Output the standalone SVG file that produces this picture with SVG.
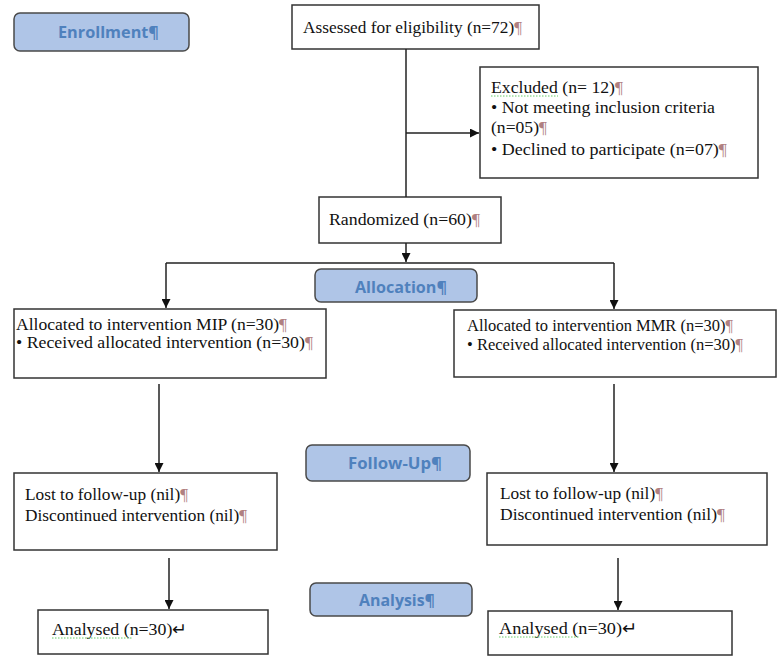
<svg xmlns="http://www.w3.org/2000/svg" width="780" height="657" viewBox="0 0 780 657">
<defs>
<marker id="arr" viewBox="0 0 10 10" refX="10" refY="5" markerWidth="9" markerHeight="9" markerUnits="userSpaceOnUse" orient="auto">
<path d="M0,0 L10,5 L0,10 z" fill="#111"/>
</marker>
</defs>
<style>
.box{fill:#fff;stroke:#333;stroke-width:1.5}
.stage{fill:#afc5e7;stroke:#4a4a4a;stroke-width:1.5}
.st{font-family:"Open Sans","Liberation Sans",sans-serif;font-weight:bold;font-size:16px;fill:#4f81bd}
.t{font-family:"Liberation Serif","Times New Roman",serif;font-size:17px;fill:#111}
.t2{font-family:"Liberation Serif","Times New Roman",serif;font-size:16px;fill:#111}
.p{fill:#b08080}
.ln{fill:none;stroke:#222;stroke-width:1.5}
.sp{fill:none;stroke:#6c6;stroke-width:1;stroke-dasharray:1.5 1.5}
</style>
<rect width="780" height="657" fill="#fff"/>
<g id="stage-enrollment"><rect class="stage" x="14" y="13" width="175" height="38" rx="6"/><text class="st" x="58" y="38" textLength="101" lengthAdjust="spacingAndGlyphs">Enrollment¶</text></g>
<g id="stage-allocation"><rect class="stage" x="315" y="269" width="162" height="33" rx="6"/><text class="st" x="355" y="293" textLength="92" lengthAdjust="spacingAndGlyphs">Allocation¶</text></g>
<g id="stage-followup"><rect class="stage" x="306" y="445" width="164" height="36" rx="6"/><text class="st" x="348" y="469" textLength="94" lengthAdjust="spacingAndGlyphs">Follow-Up¶</text></g>
<g id="stage-analysis"><rect class="stage" x="310" y="583" width="162" height="33" rx="6"/><text class="st" x="359" y="606" textLength="76" lengthAdjust="spacingAndGlyphs">Analysis¶</text></g>

<g id="assessed"><rect class="box" x="292" y="5" width="247" height="44"/><text class="t" x="303" y="33" textLength="219" lengthAdjust="spacingAndGlyphs">Assessed for eligibility (n=72)<tspan class="p">¶</tspan></text></g>
<g id="excluded"><rect class="box" x="480" y="67" width="278" height="111"/>
<text class="t" x="491" y="93" textLength="132" lengthAdjust="spacingAndGlyphs">Excluded  (n= 12)<tspan class="p">¶</tspan></text>
<path class="sp" d="M491,96 H558"/>
<text class="t" x="491" y="113" textLength="224" lengthAdjust="spacingAndGlyphs">•  Not meeting inclusion criteria </text>
<text class="t" x="491" y="133" textLength="56" lengthAdjust="spacingAndGlyphs">(n=05)<tspan class="p">¶</tspan></text>
<text class="t" x="491" y="155" textLength="236" lengthAdjust="spacingAndGlyphs">•  Declined to participate (n=07)<tspan class="p">¶</tspan></text></g>
<g id="randomized"><rect class="box" x="319" y="197" width="182" height="46"/><text class="t" x="329" y="225" textLength="151" lengthAdjust="spacingAndGlyphs">Randomized (n=60)<tspan class="p">¶</tspan></text></g>

<g id="alloc-mip"><rect class="box" x="14" y="309" width="312" height="69"/>
<text class="t2" x="16" y="330" textLength="271" lengthAdjust="spacingAndGlyphs">Allocated to intervention MIP (n=30)<tspan class="p">¶</tspan></text>
<text class="t2" x="16" y="348" textLength="297" lengthAdjust="spacingAndGlyphs">• Received allocated intervention (n=30)<tspan class="p">¶</tspan></text></g>
<g id="alloc-mmr"><rect class="box" x="454" y="310" width="322" height="67"/>
<text class="t2" x="467" y="331" textLength="266" lengthAdjust="spacingAndGlyphs">Allocated to intervention MMR (n=30)<tspan class="p">¶</tspan></text>
<text class="t2" x="467" y="350" textLength="276" lengthAdjust="spacingAndGlyphs">• Received allocated intervention (n=30)<tspan class="p">¶</tspan></text></g>

<g id="follow-left"><rect class="box" x="14" y="473" width="263" height="77"/>
<text class="t" x="25" y="500" textLength="163" lengthAdjust="spacingAndGlyphs">Lost to follow-up (nil)<tspan class="p">¶</tspan></text>
<text class="t" x="25" y="521" textLength="222" lengthAdjust="spacingAndGlyphs">Discontinued intervention (nil)<tspan class="p">¶</tspan></text></g>
<g id="follow-right"><rect class="box" x="487" y="473" width="280" height="72"/>
<text class="t" x="500" y="499" textLength="163" lengthAdjust="spacingAndGlyphs">Lost to follow-up (nil)<tspan class="p">¶</tspan></text>
<text class="t" x="500" y="520" textLength="225" lengthAdjust="spacingAndGlyphs">Discontinued intervention (nil)<tspan class="p">¶</tspan></text></g>

<g id="analysed-left"><rect class="box" x="38" y="610" width="230" height="44"/>
<text class="t" x="52" y="635" textLength="135" lengthAdjust="spacingAndGlyphs">Analysed  (n=30)↵</text>
<path class="sp" d="M52,638 H132"/></g>
<g id="analysed-right"><rect class="box" x="488" y="611" width="244" height="44"/>
<text class="t" x="499" y="634" textLength="138" lengthAdjust="spacingAndGlyphs">Analysed  (n=30)↵</text>
<path class="sp" d="M499,637 H580"/></g>

<g id="connectors">
<path class="ln" d="M406,49 V197"/>
<path class="ln" d="M406,133 H479" marker-end="url(#arr)"/>
<path class="ln" d="M406,243 V262" marker-end="url(#arr)"/>
<path class="ln" d="M166,263 H614"/>
<path class="ln" d="M166,263 V308" marker-end="url(#arr)"/>
<path class="ln" d="M614,263 V309" marker-end="url(#arr)"/>
<path class="ln" d="M159,384 V472" marker-end="url(#arr)"/>
<path class="ln" d="M614,384 V472" marker-end="url(#arr)"/>
<path class="ln" d="M169,558 V609" marker-end="url(#arr)"/>
<path class="ln" d="M618,558 V610" marker-end="url(#arr)"/>
</g>
</svg>
